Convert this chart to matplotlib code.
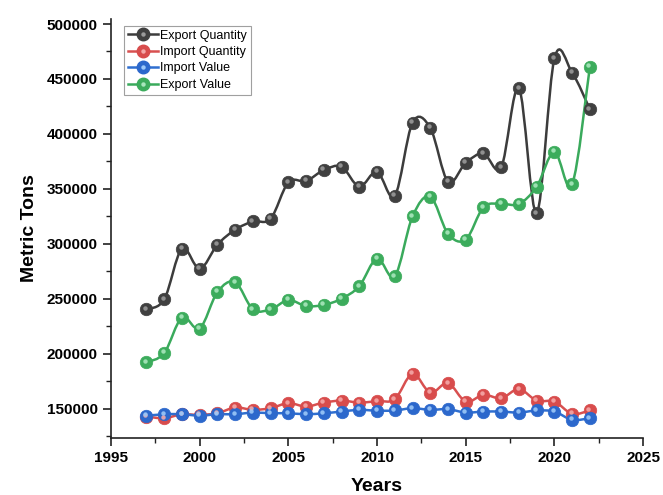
import numpy as np
import matplotlib
matplotlib.use('Agg')
from matplotlib import pyplot as plt
from matplotlib.path import Path
from matplotlib.patches import PathPatch
from matplotlib.lines import Line2D
from matplotlib import transforms
from matplotlib.ticker import MultipleLocator, FuncFormatter

plt.rcParams['font.family'] = ['Liberation Sans', 'DejaVu Sans']

years = list(range(1997, 2023))

export_qty = [240500, 249500, 295700, 277300, 299300, 312900, 320400, 322900,
              356000, 357200, 367200, 370200, 352100, 365700, 343700, 410300,
              405500, 356600, 373800, 382300, 369600, 441500, 328000, 468800,
              455700, 422400]
import_qty = [143000, 141500, 145000, 144500, 146000, 151200, 149100, 150600,
              155200, 152100, 155700, 157500, 155700, 157000, 158800, 181800,
              164800, 173400, 156600, 162700, 159700, 167900, 157500, 156600,
              145500, 148500]
import_val = [143600, 145100, 145100, 143800, 145100, 145100, 146600, 146000,
              146000, 145100, 146000, 147500, 149100, 148300, 148500, 150600,
              149100, 149700, 146600, 147500, 147500, 146600, 148500, 147500,
              140000, 141500]
export_val = [192200, 200700, 233000, 223000, 256200, 265200, 240500, 240500,
              248900, 243500, 244500, 250200, 261600, 286700, 270600, 325000,
              343100, 309300, 303900, 333400, 336400, 336400, 352100, 383800,
              354200, 461300]

series = [
    ('Export Quantity', export_qty, '#3c3c3c', '#404040', '#9a9a9a'),
    ('Import Quantity', import_qty, '#d85050', '#d84c4c', '#f4a8a8'),
    ('Import Value', import_val, '#2f6fd0', '#2c68cc', '#9cc8f8'),
    ('Export Value', export_val, '#3aaa5c', '#3cac5c', '#a8e6bc'),
]


def smooth_path(x, y):
    # catmull-rom curve through the points, as cubic bezier segments
    x = np.asarray(x, float)
    y = np.asarray(y, float)
    pts = np.column_stack([x, y])
    n = len(pts)
    verts = [pts[0]]
    codes = [Path.MOVETO]
    for i in range(n - 1):
        p0 = pts[i - 1] if i > 0 else pts[i]
        p1 = pts[i]
        p2 = pts[i + 1]
        p3 = pts[i + 2] if i + 2 < n else pts[i + 1]
        c1 = p1 + (p2 - p0) / 6.0
        c2 = p2 - (p3 - p1) / 6.0
        verts += [c1, c2, p2]
        codes += [Path.CURVE4] * 3
    return Path(verts, codes)


fig = plt.figure(figsize=(6.63, 4.95), dpi=100)
ax = fig.add_axes([0.1674, 0.1152, 0.8026, 0.8474])

hl_trans = transforms.offset_copy(ax.transData, fig=fig, x=-1.4, y=1.6, units='dots')

handles = []
for name, vals, lc, mc, hc in series:
    patch = PathPatch(smooth_path(years, vals), facecolor='none', edgecolor=lc,
                      lw=1.8, zorder=2)
    ax.add_patch(patch)
    ax.plot(years, vals, 'o', ls='none', ms=9, color=mc, mec=mc, mew=0.5, zorder=3)
    ax.plot(years, vals, 'o', ls='none', ms=3.2, color=hc, mec='none', zorder=4,
            transform=hl_trans, alpha=0.9)
    h1 = Line2D([], [], color=lc, lw=1.8, marker='o', ms=9, mfc=mc, mec=mc)
    h2 = Line2D([], [], color='none', lw=0, marker='o', ms=3.2, mfc=hc, mec='none')
    handles.append((h1, h2))

ax.set_xlim(1995, 2025)
ax.set_ylim(123500, 505000)

ax.xaxis.set_major_locator(MultipleLocator(5))
ax.xaxis.set_minor_locator(MultipleLocator(2.5))
ax.yaxis.set_major_locator(MultipleLocator(50000))
ax.yaxis.set_minor_locator(MultipleLocator(25000))
ax.yaxis.set_major_formatter(FuncFormatter(lambda v, p: '%d' % v))

for s in ['top', 'right']:
    ax.spines[s].set_visible(False)
for s in ['left', 'bottom']:
    ax.spines[s].set_linewidth(1.2)
    ax.spines[s].set_color('#222222')

ax.tick_params(which='major', direction='out', length=6, width=1.2, colors='#222222',
               labelsize=11)
ax.tick_params(which='minor', direction='out', length=3.5, width=1.0, colors='#222222')
for lbl in ax.get_xticklabels() + ax.get_yticklabels():
    lbl.set_fontweight('bold')
    lbl.set_color('black')

ax.set_xlabel('Years', fontsize=14, fontweight='bold', labelpad=9)
ax.set_ylabel('Metric Tons', fontsize=14, fontweight='bold', labelpad=6)

leg = ax.legend(handles, [s[0] for s in series], loc='upper left',
                bbox_to_anchor=(124 / 663, 1 - 26 / 495), bbox_transform=fig.transFigure,
                fontsize=9, frameon=True, fancybox=False, edgecolor='#888888',
                handlelength=2.4, handletextpad=0.2, labelspacing=0.35,
                borderpad=0.3, borderaxespad=0)
leg.get_frame().set_linewidth(0.8)

plt.savefig('out.png', dpi=100)
